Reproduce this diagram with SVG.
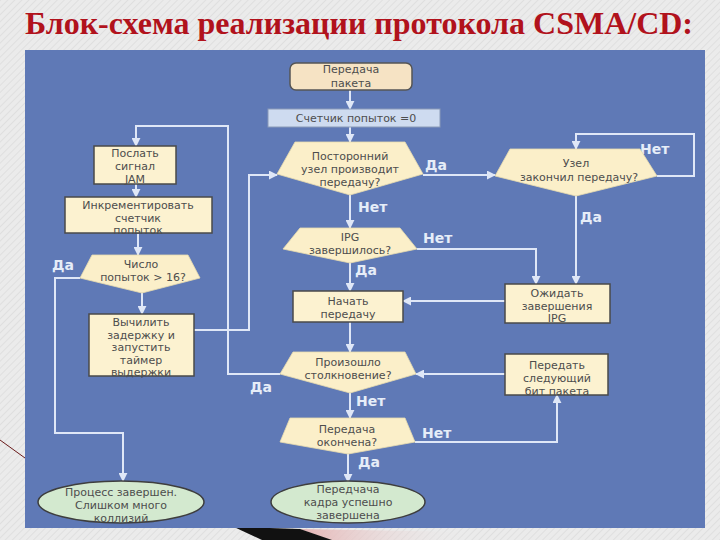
<svg xmlns="http://www.w3.org/2000/svg" width="720" height="540" viewBox="0 0 720 540">
<defs>
<pattern id="hatch" width="5" height="5" patternUnits="userSpaceOnUse" patternTransform="rotate(45)">
<rect width="5" height="5" fill="#ebebeb"/>
<line x1="0" y1="0" x2="0" y2="5" stroke="#dcdcdc" stroke-width="1.5"/>
</pattern>
<linearGradient id="pink" x1="0" y1="0" x2="1" y2="0">
<stop offset="0" stop-color="#e6b4b4"/>
<stop offset="1" stop-color="#ebebeb" stop-opacity="0"/>
</linearGradient>
<marker id="arr" viewBox="0 0 10 10" refX="9" refY="5" markerWidth="4.5" markerHeight="4.5" orient="auto" markerUnits="strokeWidth">
<path d="M0,0 L10,5 L0,10 z" fill="#dfe7f7"/>
</marker>
<style>
.box{fill:#fcf2d0;stroke:#4a4a4a;stroke-width:1.5}
.dia{fill:#fbefc9;stroke:#e9dcae;stroke-width:0.8}
.ell{fill:#d3e9cf;stroke:#3e3e3e;stroke-width:1.5}
.conn{fill:none;stroke:#dfe7f7;stroke-width:2;marker-end:url(#arr)}
.t{font-family:"DejaVu Sans",sans-serif;font-size:11px;fill:#4d4d4d;text-anchor:middle}
.lbl{font-family:"DejaVu Sans",sans-serif;font-weight:bold;font-size:14px;fill:#e6edf8}
</style>
</defs>
<rect width="720" height="540" fill="url(#hatch)"/>
<line x1="0" y1="440" x2="25" y2="458" stroke="#6a1a1a" stroke-width="1"/>
<polygon points="300,529 470,532 470,540 330,540" fill="url(#pink)"/>
<polygon points="234,527 300,529 332,540 262,540" fill="#111"/>
<text x="25" y="34" textLength="668" lengthAdjust="spacingAndGlyphs" font-family="Liberation Serif, serif" font-weight="bold" font-size="32" fill="#b1121c">Блок-схема реализации протокола CSMA/CD:</text>
<rect x="25" y="50" width="680" height="478" fill="#5f79b6"/>

<g id="connectors">
<path class="conn" d="M350,90 V109"/>
<path class="conn" d="M350,127 V142"/>
<path class="conn" d="M350,195 V228"/>
<path class="conn" d="M423,175 H495"/>
<path class="conn" d="M657,176 H694 V134 H576 V149"/>
<path class="conn" d="M576,196 V284"/>
<path class="conn" d="M417,249 H536 V284"/>
<path class="conn" d="M350,263 V291"/>
<path class="conn" d="M505,301 H403"/>
<path class="conn" d="M350,322 V352"/>
<path class="conn" d="M505,374 H416"/>
<path class="conn" d="M350,393 V418"/>
<path class="conn" d="M415,442 H557 V395"/>
<path class="conn" d="M348,454 V482"/>
<path class="conn" d="M280,374 H228 V126 H136 V146"/>
<path class="conn" d="M136,184 V197"/>
<path class="conn" d="M138,233 V255"/>
<path class="conn" d="M80,278 H55 V433 H123 V481"/>
<path class="conn" d="M142,293 V314"/>
<path class="conn" d="M193,330 H249 V175 H277"/>
<text class="lbl" x="425" y="170">Да</text>
<text class="lbl" x="358" y="212">Нет</text>
<text class="lbl" x="640" y="154">Нет</text>
<text class="lbl" x="580" y="222">Да</text>
<text class="lbl" x="423" y="243">Нет</text>
<text class="lbl" x="355" y="275">Да</text>
<text class="lbl" x="250" y="392">Да</text>
<text class="lbl" x="356" y="406">Нет</text>
<text class="lbl" x="422" y="438">Нет</text>
<text class="lbl" x="358" y="467">Да</text>
<text class="lbl" x="52" y="270">Да</text>
</g>

<g id="start">
<rect x="290" y="63" width="122" height="27" rx="6" fill="#f6e3c4" stroke="#555" stroke-width="1.5"/>
<text class="t" x="351" y="73" font-size="12.5">Передача</text>
<text class="t" x="351" y="87" font-size="12.5">пакета</text>
</g>
<g id="counter0">
<rect x="268" y="109" width="172" height="18" fill="#cedbf0" stroke="#8a9ab8" stroke-width="1"/>
<text class="t" x="356" y="122" font-size="11.5">Счетчик попыток =0</text>
</g>
<g id="busy">
<polygon class="dia" points="295,142 405,142 423,174 350,195 277,174"/>
<text class="t" x="350" y="160" font-size="11.5">Посторонний</text>
<text class="t" x="350" y="173" font-size="11.5">узел производит</text>
<text class="t" x="350" y="186" font-size="11.5">передачу?</text>
</g>
<g id="nodeDone">
<polygon class="dia" points="510,149 640,149 657,176 576,196 495,176"/>
<text class="t" x="576" y="167" font-size="10.5">Узел</text>
<text class="t" x="579" y="181" font-size="10.5">закончил передачу?</text>
</g>
<g id="waitIPG">
<rect class="box" x="505" y="284" width="105" height="39"/>
<text class="t" x="557" y="297">Ожидать</text>
<text class="t" x="557" y="309.5">завершения</text>
<text class="t" x="557" y="322">IPG</text>
</g>
<g id="ipgDone">
<polygon class="dia" points="300,228 400,228 417,249 350,263 283,249"/>
<text class="t" x="350" y="241">IPG</text>
<text class="t" x="350" y="254">завершилось?</text>
</g>
<g id="startTx">
<rect class="box" x="293" y="291" width="110" height="31"/>
<text class="t" x="348" y="305">Начать</text>
<text class="t" x="348" y="318">передачу</text>
</g>
<g id="collision">
<polygon class="dia" points="293,352 405,352 416,374 350,393 280,374"/>
<text class="t" x="348" y="366">Произошло</text>
<text class="t" x="348" y="379">столкновение?</text>
</g>
<g id="nextBit">
<rect class="box" x="505" y="354" width="103" height="41"/>
<text class="t" x="557" y="369">Передать</text>
<text class="t" x="557" y="382">следующий</text>
<text class="t" x="557" y="395">бит пакета</text>
</g>
<g id="txDone">
<polygon class="dia" points="290,418 405,418 415,442 348,454 280,442"/>
<text class="t" x="347" y="433">Передача</text>
<text class="t" x="347" y="446">окончена?</text>
</g>
<g id="success">
<ellipse class="ell" cx="348" cy="502" rx="77" ry="21"/>
<text class="t" x="348" y="493">Передчача</text>
<text class="t" x="348" y="506">кадра успешно</text>
<text class="t" x="348" y="519">завершена</text>
</g>
<g id="jam">
<rect class="box" x="94" y="146" width="82" height="38"/>
<text class="t" x="135" y="157">Послать</text>
<text class="t" x="135" y="170">сигнал</text>
<text class="t" x="135" y="182.5">JAM</text>
</g>
<g id="incr">
<rect class="box" x="65" y="197" width="147" height="36"/>
<text class="t" x="138" y="209">Инкрементировать</text>
<text class="t" x="138" y="221.5">счетчик</text>
<text class="t" x="138" y="234">попыток</text>
</g>
<g id="over16">
<polygon class="dia" points="92,255 188,255 200,278 142,293 80,278"/>
<text class="t" x="141" y="268">Число</text>
<text class="t" x="143" y="281">попыток &gt; 16?</text>
</g>
<g id="backoff">
<rect class="box" x="89" y="314" width="105" height="62"/>
<text class="t" x="141" y="326" font-size="11.5">Вычилить</text>
<text class="t" x="141" y="338.5" font-size="11.5">задержку и</text>
<text class="t" x="141" y="351" font-size="11.5">запустить</text>
<text class="t" x="141" y="363.5" font-size="11.5">таймер</text>
<text class="t" x="141" y="376" font-size="11.5">выдержки</text>
</g>
<g id="fail">
<ellipse class="ell" cx="121" cy="502" rx="83" ry="21"/>
<text class="t" x="121" y="496" font-size="12">Процесс завершен.</text>
<text class="t" x="121" y="509" font-size="12">Слишком много</text>
<text class="t" x="121" y="522" font-size="12">коллизий</text>
</g>
</svg>
